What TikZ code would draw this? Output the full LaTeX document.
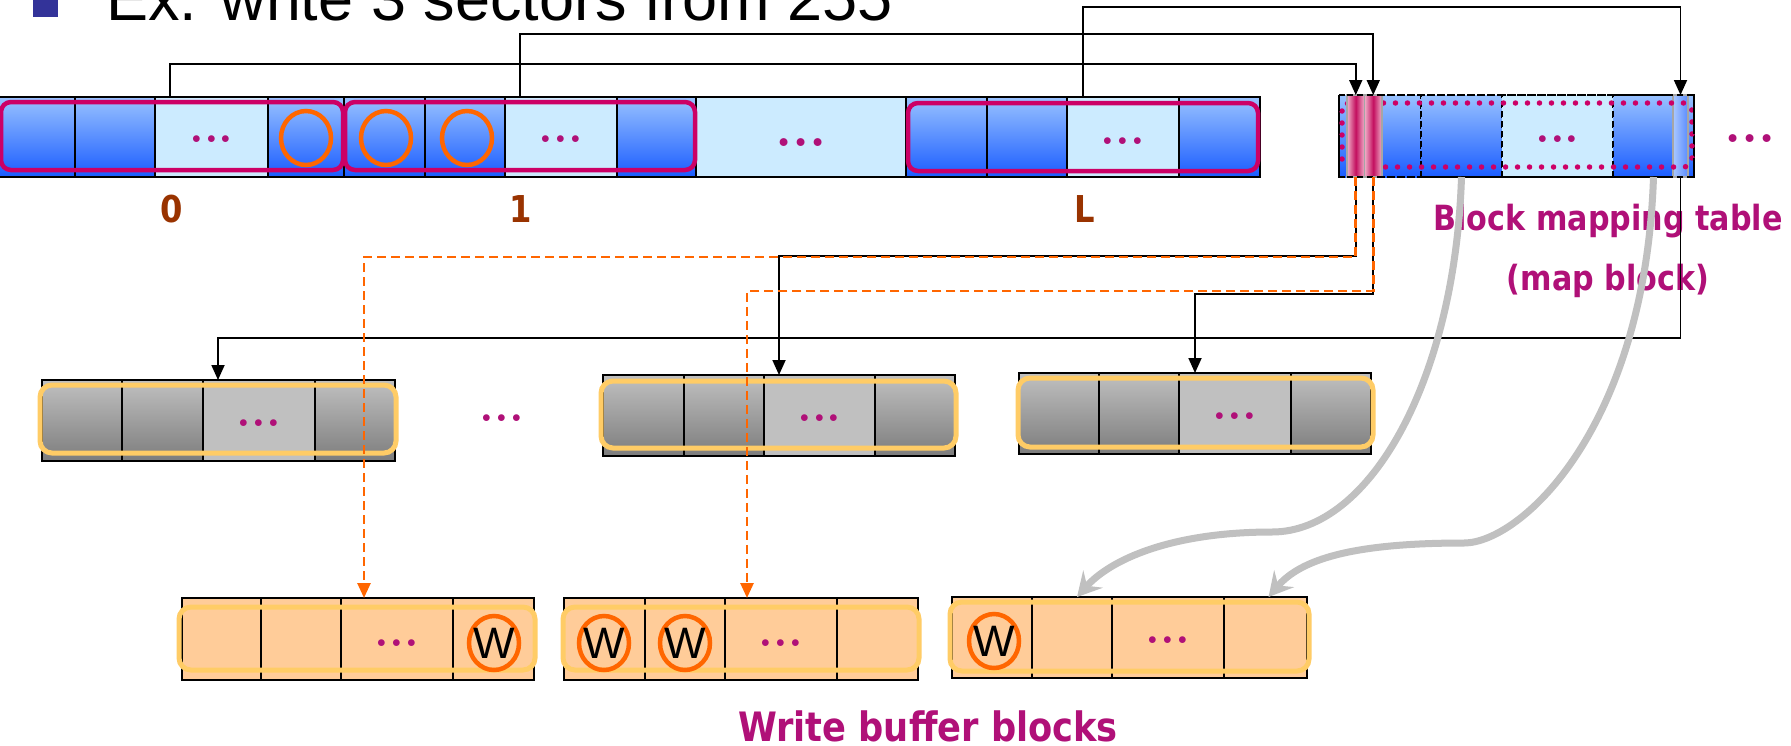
\documentclass[tikz,border=0pt]{standalone}
\usepackage{fontspec}
\usetikzlibrary{arrows.meta,calc,shapes.geometric}
\newfontfamily\arialf{Liberation Sans}
\newfontfamily\tahf{DejaVu Sans}[FakeStretch=0.87]
\newcommand\tahsize[1]{\tahf\bfseries\fontsize{#1}{#1}\selectfont}
\definecolor{blueT}{RGB}{153,194,255}
\definecolor{blueB}{RGB}{26,92,255}
\definecolor{lightc}{RGB}{204,235,255}
\definecolor{magF}{RGB}{204,0,102}
\definecolor{magT}{RGB}{176,16,120}
\definecolor{orng}{RGB}{255,102,0}
\definecolor{grayT}{RGB}{192,192,192}
\definecolor{grayB}{RGB}{125,125,125}
\definecolor{peach}{RGB}{255,204,153}
\definecolor{yelF}{RGB}{255,204,102}
\definecolor{brownL}{RGB}{153,51,0}
\definecolor{bulletC}{RGB}{51,51,153}
\definecolor{curveC}{RGB}{192,192,192}
\definecolor{pinkE}{RGB}{240,175,200}
\definecolor{pinkM}{RGB}{195,15,95}
\definecolor{stripeB}{RGB}{170,200,255}
\definecolor{stripeD}{RGB}{90,140,255}
\begin{document}
\begin{tikzpicture}[x=1pt,y=-1pt,
  cwid/.style={minimum width=#1pt},
  chgt/.style={minimum height=#1pt},
  cell/.style={rectangle, draw=black, line width=1.3pt, inner sep=0pt, outer sep=0pt, anchor=north west},
  bc/.style={cell, top color=blueT, bottom color=blueB},
  lc/.style={cell, fill=lightc},
  gc/.style={cell, top color=grayT, bottom color=grayB},
  glc/.style={cell, fill=grayT},
  pc/.style={cell, fill=peach},
  dcell/.style={dash pattern=on 6pt off 4pt, line width=1.5pt},
  stripe/.style={cell, draw=gray!70, line width=1.5pt, left color=pinkE, right color=pinkE, middle color=pinkM},
  bstripe/.style={cell, draw=gray!70, line width=1.5pt, left color=stripeB, right color=stripeD},
  magframe/.style={draw=magF, line width=4.5pt, rounded corners=10pt},
  magdot/.style={draw=magF, line width=5.5pt, line cap=round, dash pattern=on 0pt off 12pt, rounded corners=8pt},
  yelframe/.style={draw=yelF, line width=5pt, rounded corners=12pt},
  ring/.style={ellipse, draw=orng, line width=4.5pt, minimum width=50pt, minimum height=54pt, inner sep=0pt},
  wlet/.style={inner sep=0pt, font=\arialf\fontsize{44}{44}\selectfont},
  dots/.style={inner sep=0pt, text=magT, font=\fontsize{47}{47}\selectfont\bfseries},
  bigdots/.style={inner sep=0pt, text=magT, font=\fontsize{55}{55}\selectfont\bfseries},
  lbl/.style={anchor=base, inner sep=0pt, text=brownL, font=\tahsize{37}},
  mtxt/.style={anchor=base, inner sep=0pt, text=magT},
  conn/.style={draw=black, line width=1.8pt},
  arr/.style={conn, -{Triangle[width=13pt,length=15pt]}},
  odash/.style={draw=orng, line width=2.6pt, dash pattern=on 9pt off 5pt},
  oarr/.style={odash, -{Triangle[width=13pt,length=15pt]}},
  garr/.style={draw=curveC, line width=7pt, -{Stealth[length=24pt,width=26pt,inset=9pt]}}
]
\useasboundingbox (0,0) rectangle (1791,745);
\fill[white] (0,0) rectangle (1791,745);

% title
\fill[bulletC] (33,-8) rectangle (58,17);
\node[anchor=base west, inner sep=0pt, font=\arialf\fontsize{63}{70}\selectfont] (title) at (106,20) {Ex. write 3 sectors from 255};

% top row
\node[bc,cwid=80,chgt=80] (t1) at (-5,97) {};
\node[bc,cwid=80,chgt=80] (t2) at (75,97) {};
\node[lc,cwid=113,chgt=80] (t3) at (155,97) {};
\node[bc,cwid=76,chgt=80] (t4) at (268,97) {};
\node[bc,cwid=81,chgt=80] (t5) at (344,97) {};
\node[bc,cwid=80,chgt=80] (t6) at (425,97) {};
\node[lc,cwid=112,chgt=80] (t7) at (505,97) {};
\node[bc,cwid=79,chgt=80] (t8) at (617,97) {};
\node[lc,cwid=210,chgt=80] (t9) at (696,97) {};
\node[bc,cwid=81,chgt=80] (t10) at (906,97) {};
\node[bc,cwid=80,chgt=80] (t11) at (987,97) {};
\node[lc,cwid=112,chgt=80] (t12) at (1067,97) {};
\node[bc,cwid=81,chgt=80] (t13) at (1179,97) {};
\node[dots] (d1) at ($(t3.center)+(0,2)$) {...};
\node[dots] (d2) at ($(t7.center)+(0,2)$) {...};
\node[bigdots] (d3) at ($(t9.center)+(0,6)$) {...};
\node[dots] (d4) at ($(t12.center)+(0,4)$) {...};
\node[ring] (o1) at (306,138) {};
\node[ring] (o2) at (386,138) {};
\node[ring] (o3) at (467,138) {};
\draw[magframe] (1,102) rectangle (343,170);
\draw[magframe] (345,102) rectangle (695,170);
\draw[magframe] (908,103) rectangle (1258,171);
\node[lbl] (l0) at (172,222) {0};
\node[lbl] (l1) at (521,222) {1};
\node[lbl] (lL) at (1085,222) {L};

% map block
\node[bc,dcell,cwid=82,chgt=82] (m1) at (1339,95) {};
\node[bc,dcell,cwid=81,chgt=82] (m2) at (1421,95) {};
\node[lc,dcell,cwid=111,chgt=82] (m3) at (1502,95) {};
\node[bc,dcell,cwid=81,chgt=82] (m4) at (1613,95) {};
\node[bstripe,cwid=15,chgt=82] (ms3) at (1673,95) {};
\draw[magdot] (1342,103) rectangle (1692,167);
\node[stripe,cwid=17.5,chgt=82] (ms1) at (1347,95) {};
\node[stripe,cwid=17.5,chgt=82] (ms2) at (1364.5,95) {};
\draw[black,dcell] (1339,95) rectangle (1694,177);
\node[dots] (d5) at ($(m3.center)+(0,3)$) {...};
\node[bigdots] (d6) at (1750,139) {...};

% gray blocks
\node[gc,cwid=80,chgt=81] (g1) at (42,380) {};
\node[gc,cwid=81,chgt=81] (g2) at (122,380) {};
\node[glc,cwid=112,chgt=81] (g3) at (203,380) {};
\node[gc,cwid=80,chgt=81] (g4) at (315,380) {};
\draw[yelframe] (40,385) rectangle (396,453);
\node[gc,cwid=81,chgt=81] (h1) at (603,375) {};
\node[gc,cwid=80,chgt=81] (h2) at (684,375) {};
\node[glc,cwid=111,chgt=81] (h3) at (764,375) {};
\node[gc,cwid=80,chgt=81] (h4) at (875,375) {};
\draw[yelframe] (601,381) rectangle (956,448);
\node[gc,cwid=80,chgt=81] (k1) at (1019,373) {};
\node[gc,cwid=80,chgt=81] (k2) at (1099,373) {};
\node[glc,cwid=112,chgt=81] (k3) at (1179,373) {};
\node[gc,cwid=80,chgt=81] (k4) at (1291,373) {};
\draw[yelframe] (1018,378) rectangle (1373,447);
\node[dots] (d7) at ($(g3.center)+(0,3)$) {...};
\node[dots] (d8) at ($(h3.center)+(0,3)$) {...};
\node[dots] (d9) at ($(k3.center)+(0,3)$) {...};
\node[dots] (d10) at (502,418) {...};

% write buffer blocks
\node[pc,cwid=79,chgt=82] (p1) at (182,598) {};
\node[pc,cwid=80,chgt=82] (p2) at (261,598) {};
\node[pc,cwid=112,chgt=82] (p3) at (341,598) {};
\node[pc,cwid=81,chgt=82] (p4) at (453,598) {};
\draw[yelframe] (179,607) rectangle (535,670);
\node[pc,cwid=81,chgt=82] (q1) at (564,598) {};
\node[pc,cwid=80,chgt=82] (q2) at (645,598) {};
\node[pc,cwid=112,chgt=82] (q3) at (725,598) {};
\node[pc,cwid=81,chgt=82] (q4) at (837,598) {};
\draw[yelframe] (563,607) rectangle (919,670);
\node[pc,cwid=80,chgt=81] (u1) at (952,597) {};
\node[pc,cwid=80,chgt=81] (u2) at (1032,597) {};
\node[pc,cwid=112,chgt=81] (u3) at (1112,597) {};
\node[pc,cwid=83,chgt=81] (u4) at (1224,597) {};
\draw[yelframe] (950,602) rectangle (1309,671);
\node[dots] (d11) at ($(p3.center)+(0,4)$) {...};
\node[dots] (d12) at ($(q3.center)+(0,4)$) {...};
\node[dots] (d13) at ($(u3.center)+(0,3)$) {...};
\node[ring] (w1) at (494,643) {};
\node[wlet] at (w1) {W};
\node[ring] (w2) at (604,643) {};
\node[wlet] at (w2) {W};
\node[ring] (w3) at (685,643) {};
\node[wlet] at (w3) {W};
\node[ring] (w4) at (994,641) {};
\node[wlet] at (w4) {W};

% texts
\node[mtxt, font=\tahsize{34.7}] (bmt) at (1608,230) {Block mapping table};
\node[mtxt, font=\tahsize{34.7}] (mb) at (1608,290) {(map block)};
\node[mtxt, font=\tahsize{40.5}] (wbb) at (928,741) {Write buffer blocks};

% connectors top
\coordinate (a0) at ($(t3.north west)+(15,0)$);
\coordinate (a1) at ($(t7.north west)+(15,0)$);
\coordinate (aL) at ($(t12.north west)+(16,0)$);
\draw[arr] (a0) -- ++(0,-33) -| (ms1.north);
\draw[arr] (a1) -- ++(0,-63) -| (ms2.north);
\draw[arr] (aL) -- ++(0,-90) -| (ms3.north);

% connectors down (black)
\coordinate (ga) at ($(g3.north west)+(15,0)$);
\coordinate (ha) at ($(h3.north west)+(15,0)$);
\coordinate (ka) at ($(k3.north west)+(16,0)$);
\draw[arr] (ms1.south) -- ++(0,79) -| (ha);
\draw[arr] (ms2.south) -- ++(0,117) -| (ka);
\draw[arr] (ms3.south) -- ++(0,161) -| (ga);

% connectors down (orange dashed)
\coordinate (pa) at ($(p3.north west)+(23,0)$);
\coordinate (qa) at ($(q3.north west)+(22,0)$);
\draw[oarr] (ms1.south) -- ++(0,80) -| (pa);
\draw[oarr] (ms2.south) -- ++(0,114) -| (qa);

% gray curved arrows
\coordinate (ua) at ($(u2.north)+(5,0)$);
\coordinate (ub) at ($(u4.north)+(3,0)$);
\draw[garr] (m2.south) .. controls (1455,380) and (1370,532) .. (1272,532)
  .. controls (1170,532) and (1110,560) .. (ua);
\draw[garr] (m4.south) .. controls (1645,430) and (1520,543) .. (1464,543)
  .. controls (1350,543) and (1300,560) .. (ub);
\end{tikzpicture}
\end{document}
